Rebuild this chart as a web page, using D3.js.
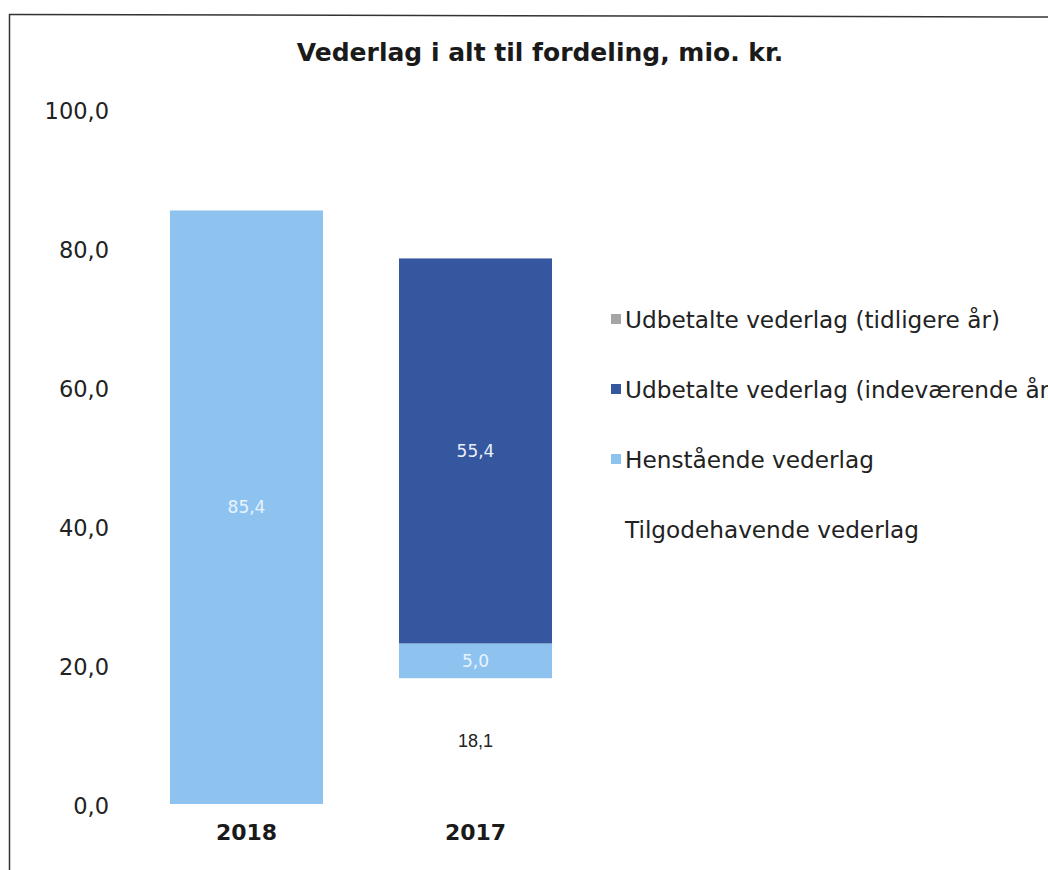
<!DOCTYPE html>
<html><head><meta charset="utf-8">
<script src="https://cdn.jsdelivr.net/npm/d3@7"></script>
<style>html,body{margin:0;padding:0;background:#fff;overflow:hidden}</style>
</head><body>
<script>
const title = "Vederlag i alt til fordeling, mio. kr.";
const categories = ["2018", "2017"];
const seriesNames = ["Tilgodehavende vederlag", "Henstående vederlag", "Udbetalte vederlag (indeværende år)", "Udbetalte vederlag (tidligere år)"];
const tilgodehavende = [0, 18.1];
const henstaaende = [85.4, 5.0];
const udbetaltIndev = [0, 55.4];
const udbetaltTidl = [0, 0];
const yTicks = [0, 20, 40, 60, 80, 100];

const colors = ["#ffffff", "#8ec3ef", "#35579f", "#a6a6a6"];
const labelColors = ["#222222", "#e8f3ff", "#e8f0fb", "#ffffff"];
const seriesVals = [tilgodehavende, henstaaende, udbetaltIndev, udbetaltTidl];

const W = 1048, H = 870;
const svg = d3.select("body").append("svg").attr("width", W).attr("height", H);

// frame
svg.append("line").attr("x1", 9.5).attr("y1", 14).attr("x2", 9.5).attr("y2", H).attr("stroke", "#333").attr("stroke-width", 1.5);
svg.append("line").attr("x1", 9).attr("y1", 14.5).attr("x2", W).attr("y2", 17).attr("stroke", "#333").attr("stroke-width", 1.5);

const y = d3.scaleLinear().domain([0, 100]).range([804, 109]);
const x = d3.scaleBand().domain(categories).range([132, 590]).paddingInner(0.332).paddingOuter(0.166);

const fmt = v => d3.format(".1f")(v).replace(".", ",");

// title
svg.append("text").attr("x", 540).attr("y", 61).attr("text-anchor", "middle")
  .attr("font-family", "DejaVu Sans").attr("font-weight", "bold").attr("font-size", 25)
  .attr("fill", "#1a1a1a").text(title);

// y axis
const yAxis = d3.axisLeft(y).tickValues(yTicks).tickFormat(fmt).tickSize(0).tickPadding(0);
const ga = svg.append("g").attr("transform", "translate(109,0)").call(yAxis);
ga.select(".domain").remove();
ga.selectAll("text").attr("font-family", "DejaVu Sans").attr("font-size", 22.5).attr("fill", "#222").attr("dy", "0.4em");

// x axis
const xAxis = d3.axisBottom(x).tickSize(0).tickPadding(0);
const gx = svg.append("g").attr("transform", "translate(0,824)").call(xAxis);
gx.select(".domain").remove();
gx.selectAll("text").attr("font-family", "DejaVu Sans").attr("font-weight", "bold").attr("font-size", 22).attr("fill", "#1a1a1a").attr("dy", "0.71em");

// stacked data
const rows = categories.map((c, i) => {
  const r = {cat: c};
  seriesNames.forEach((s, j) => r[s] = seriesVals[j][i]);
  return r;
});
const stack = d3.stack().keys(seriesNames)(rows);

stack.forEach((layer, j) => {
  const g = svg.append("g");
  g.selectAll("rect").data(layer).join("rect")
    .attr("x", d => x(d.data.cat))
    .attr("width", x.bandwidth())
    .attr("y", d => y(d[1]))
    .attr("height", d => y(d[0]) - y(d[1]))
    .attr("fill", colors[j]);
  g.selectAll("text").data(layer.filter(d => d[1] - d[0] > 0)).join("text")
    .attr("x", d => x(d.data.cat) + x.bandwidth() / 2)
    .attr("y", d => (y(d[0]) + y(d[1])) / 2)
    .attr("dy", "0.35em")
    .attr("text-anchor", "middle")
    .attr("font-family", j === 0 ? "Liberation Sans" : "DejaVu Sans")
    .attr("font-size", j === 0 ? 18 : 17)
    .attr("fill", labelColors[j])
    .text(d => fmt(d[1] - d[0]));
});

// legend (reverse order)
const legendOrder = seriesNames.slice().reverse();
const lg = svg.append("g");
legendOrder.forEach((s, i) => {
  const ci = seriesNames.indexOf(s);
  const yy = 320 + i * 70;
  lg.append("rect").attr("x", 611).attr("y", yy - 6).attr("width", 10).attr("height", 10).attr("fill", colors[ci]);
  lg.append("text").attr("x", 625).attr("y", yy).attr("dy", "0.35em")
    .attr("font-family", "DejaVu Sans").attr("font-size", 23.2).attr("fill", "#222").text(s);
});
</script>
</body></html>
